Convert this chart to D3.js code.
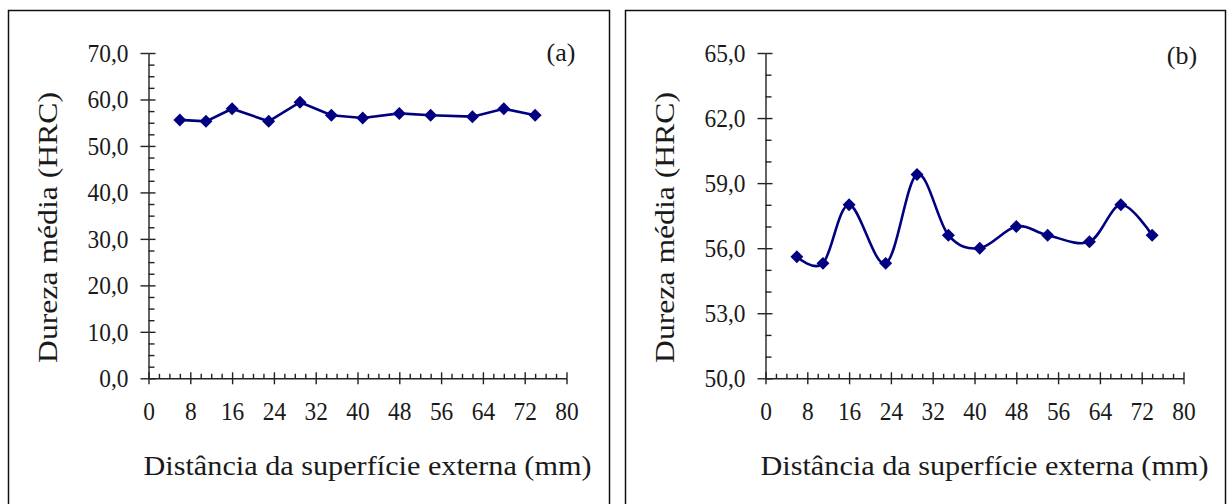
<html>
<head>
<style>
    body { margin: 0; background: #fff; }
    text { fill: #1a1a1a; }
    .axis path, .axis line { stroke: #222; stroke-width: 1.4px; }
</style>
</head>
<body>
<svg id="chart" width="1227" height="504" font-family="Liberation Serif, Times New Roman, serif"></svg>
<script src="https://d3js.org/d3.v7.min.js"></script>
<script>
    // dados (mesma serie nos dois paineis)
    const distancia = [6, 11, 16, 23, 29, 35, 41, 48, 54, 62, 68, 74]
    const dureza = [55.6, 55.3, 58.0, 55.3, 59.4, 56.6, 56.0, 57.0, 56.6, 56.3, 58.0, 56.6]
    const xTicks = [0, 8, 16, 24, 32, 40, 48, 56, 64, 72, 80]
    const yTicksA = [0, 10, 20, 30, 40, 50, 60, 70]
    const yTicksB = [50, 53, 56, 59, 62, 65]
    const panelLabels = ["(a)", "(b)"]

    const xTitle = "Distância da superfície externa (mm)"
    const yTitle = "Dureza média (HRC)"

    let svg = d3.select("#chart")
    let fmt = d3.formatLocale({decimal: ",", thousands: ".", grouping: [3], currency: ["", ""]}).format(".1f")
    let serif = "Liberation Serif, Times New Roman, serif"
    let squeeze = 0.9   // o original parece um pouco comprimido na horizontal

    let panels = [
        {label: panelLabels[0], ox: 0, ticks: yTicksA, minorStep: 2.5, curve: d3.curveLinear, frame: [8.5, 609.5]},
        {label: panelLabels[1], ox: 617, ticks: yTicksB, minorStep: 1, curve: d3.curveCardinal.tension(0), frame: [625.5, 1225.5]}
    ]

    let plotTop = 53, plotBottom = 378.3

    function styleAxis(g) {
        g.attr("font-family", serif).attr("font-size", 26)
        g.selectAll("text").attr("fill", "#1a1a1a")
    }

    panels.forEach(p => {
        // moldura
        svg.append("rect")
            .attr("x", p.frame[0]).attr("y", 10.5)
            .attr("width", p.frame[1] - p.frame[0]).attr("height", 520)
            .attr("fill", "none").attr("stroke", "#111").attr("stroke-width", 1.5)

        let x = d3.scaleLinear().domain([0, 80]).range([148.5 + p.ox, 566.5 + p.ox])
        let yMin = d3.min(p.ticks), yMax = d3.max(p.ticks)
        let y = d3.scaleLinear().domain([yMin, yMax]).range([plotBottom, plotTop])

        let xMinor = d3.range(0, 81, 2).filter(v => !xTicks.includes(v))
        let yMinor = d3.range(yMin, yMax + 0.01, p.minorStep).filter(v => !p.ticks.includes(v))

        // eixo x
        let gx = svg.append("g").attr("class", "axis").attr("transform", `translate(0,${plotBottom})`)
        gx.call(d3.axisBottom(x).tickValues(xTicks).tickSize(6).tickSizeOuter(0).tickPadding(17).tickFormat(d3.format("d")))
            .call(styleAxis)
        gx.selectAll(".tick text").attr("transform", `scale(${squeeze},1)`)
        gx.append("g").call(d3.axisTop(x).tickValues(xTicks).tickSize(6).tickFormat(""))
            .call(g => g.select(".domain").remove())
        gx.append("g").call(d3.axisTop(x).tickValues(xMinor).tickSize(4.5).tickFormat(""))
            .call(g => g.select(".domain").remove())

        // eixo y
        let gy = svg.append("g").attr("class", "axis").attr("transform", `translate(${x(0)},0)`)
        gy.call(d3.axisLeft(y).tickValues(p.ticks).tickSize(8).tickSizeOuter(0).tickPadding(12).tickFormat(fmt))
            .call(styleAxis)
        gy.selectAll(".tick text").attr("x", -20 / squeeze).attr("transform", `scale(${squeeze},1)`)
        gy.append("g").call(d3.axisRight(y).tickValues(p.ticks).tickSize(7).tickFormat(""))
            .call(g => g.select(".domain").remove())
        gy.append("g").call(d3.axisRight(y).tickValues(yMinor).tickSize(6).tickFormat(""))
            .call(g => g.select(".domain").remove())

        // linha
        let line = d3.line()
            .x((d, i) => x(distancia[i]))
            .y(d => y(d))
            .curve(p.curve)

        svg.append("path")
            .datum(dureza)
            .attr("d", line)
            .attr("fill", "none")
            .attr("stroke", "#000080")
            .attr("stroke-width", 2.6)

        svg.append("g").selectAll("path")
            .data(dureza)
            .enter().append("path")
            .attr("d", d3.symbol(d3.symbolSquare, 84))
            .attr("transform", (d, i) => `translate(${x(distancia[i])},${y(d)}) rotate(45)`)
            .attr("fill", "#000080")

        // titulos
        svg.append("text")
            .attr("x", 143.5 + p.ox).attr("y", 475)
            .attr("font-size", 28)
            .attr("textLength", 448).attr("lengthAdjust", "spacingAndGlyphs")
            .text(xTitle)

        svg.append("text")
            .attr("transform", `translate(${57 + p.ox},363) rotate(-90) scale(1,0.87)`)
            .attr("font-size", 31)
            .attr("textLength", 271).attr("lengthAdjust", "spacingAndGlyphs")
            .text(yTitle)

        svg.append("text")
            .attr("x", 561 + p.ox + (p.ox ? 4 : 0)).attr("y", p.ox ? 64 : 61)
            .attr("text-anchor", "middle")
            .attr("font-size", 26)
            .text(p.label)
    })
</script>
</body>
</html>
